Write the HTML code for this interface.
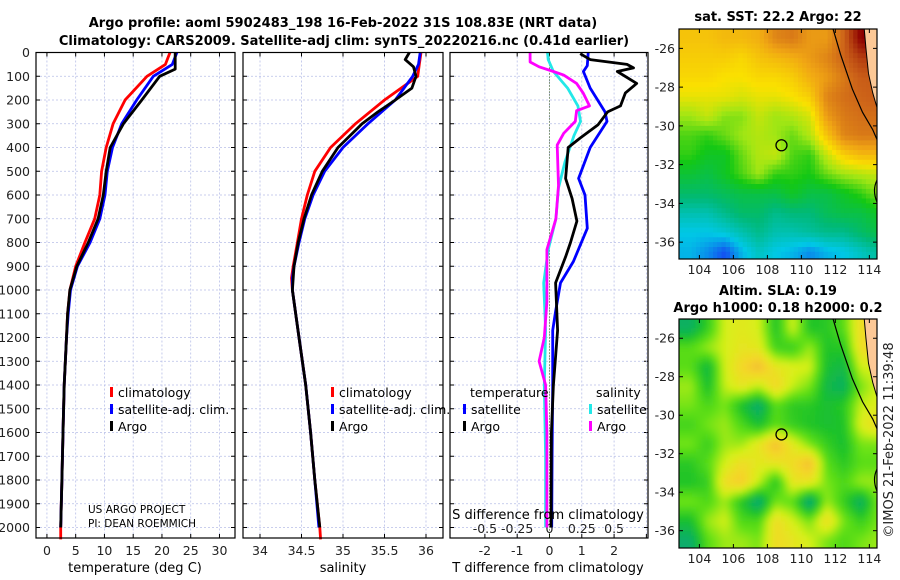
<!DOCTYPE html>
<html><head><meta charset="utf-8">
<style>
html,body{margin:0;padding:0;background:#fff;}
svg{display:block;font-family:"DejaVu Sans","Liberation Sans",sans-serif;}
</style></head>
<body>
<svg id="chart" width="900" height="580" viewBox="0 0 900 580" xmlns="http://www.w3.org/2000/svg">
<defs>
<filter id="blur" x="0" y="0" width="1" height="1"><feGaussianBlur stdDeviation="3"/></filter>
<clipPath id="clipTop"><rect x="679" y="29" width="198" height="230"/></clipPath>
<clipPath id="clipBot"><rect x="679" y="319" width="198" height="229"/></clipPath>
</defs>
<text x="343" y="27" text-anchor="middle" font-size="13" font-weight="bold">Argo profile: aoml 5902483_198 16-Feb-2022 31S 108.83E (NRT data)</text>
<text x="344" y="45" text-anchor="middle" font-size="13" font-weight="bold">Climatology: CARS2009. Satellite-adj clim: synTS_20220216.nc (0.41d earlier)</text>
<g id="g"></g>
</svg>
<script>
// ---------- profile data ----------
const tDepth = [0,50,100,200,300,400,500,600,700,800,900,1000,1100,1200,1400,1600,1800,2000,2050];
const tClim  = [21.4,20.6,17.4,13.6,11.5,10.3,9.5,9.2,8.3,6.6,5.0,4.0,3.6,3.4,3.0,2.8,2.6,2.4,2.4];
const tSat   = [22.6,21.8,18.5,15.6,13.0,11.4,10.5,10.1,9.2,7.5,5.3,4.1,3.7,3.4,3.0,2.8,2.6,2.4];
const tArgoDepth = [0,70,100,200,300,400,500,600,700,800,900,1000,1100,1200,1400,1600,1800,2000];
const tArgo  = [22.3,22.3,19.6,16.5,13.3,11.0,10.3,9.8,8.9,7.2,5.2,4.0,3.6,3.4,3.0,2.8,2.6,2.4];

const sDepth = [0,50,100,200,300,400,500,600,700,800,900,950,1000,1100,1200,1400,1600,1800,2000,2050];
const sClim  = [35.94,35.92,35.9,35.5,35.15,34.85,34.66,34.57,34.5,34.45,34.4,34.38,34.39,34.43,34.47,34.55,34.61,34.66,34.72,34.73];
const sSat   = [35.93,35.91,35.84,35.63,35.3,35.0,34.78,34.64,34.54,34.47,34.41,34.39,34.39,34.43,34.47,34.55,34.61,34.66,34.71];
const sArgoDepth = [0,30,60,100,150,200,250,300,400,500,600,700,800,900,1000,1100,1200,1400,1600,1800,2000];
const sArgo  = [35.8,35.75,35.85,35.88,35.83,35.63,35.42,35.23,34.94,34.75,34.62,34.53,34.46,34.41,34.39,34.43,34.47,34.55,34.61,34.66,34.72];

const dtDepth = [5,30,50,65,80,130,170,225,250,305,360,400,530,615,710,800,860,970,1170,1400,1600,2000];
const dtArgo  = [0.95,1.26,2.4,2.6,2.1,2.7,2.35,2.2,1.8,1.5,0.95,0.58,0.5,0.7,0.85,0.65,0.5,0.19,0.25,0.12,0.06,0.05];
const dtSatDepth = [0,55,80,150,250,290,400,530,600,740,880,970,1090,1170,1400,1700,2000];
const dtSat   = [1.2,1.17,1.05,1.26,1.72,1.78,1.26,0.9,1.1,1.17,0.74,0.34,0.19,0.1,0.1,0.08,0.07];
const dsDepth = [0,30,80,150,225,290,350,460,570,700,830,970,1170,1400,1700,2000];
const dsSat   = [-0.015,-0.01,0.03,0.14,0.22,0.24,0.19,0.12,0.07,0.05,-0.01,-0.045,-0.03,-0.04,-0.03,-0.03];
const dsArgoDepth = [0,40,60,80,95,130,170,225,245,290,340,390,560,700,830,1050,1200,1300,1400,1600,2000];
const dsArgo  = [-0.15,-0.15,-0.08,0.03,0.11,0.21,0.26,0.31,0.21,0.2,0.11,0.06,0.07,0.05,-0.02,-0.02,-0.04,-0.08,-0.03,-0.02,-0.02];

const depthTicks = [0,100,200,300,400,500,600,700,800,900,1000,1100,1200,1300,1400,1500,1600,1700,1800,1900,2000];
const tTicks = [0,5,10,15,20,25,30];
const sTicks = [34,34.5,35,35.5,36];
const sTickLabels = ["34","34.5","35","35.5","36"];
const dtTicks = [-2,-1,0,1,2];
const dsTicks = [-0.5,-0.25,0,0.25,0.5];
const dsTickLabels = ["-0.5","-0.25","0","0.25","0.5"];

// ---------- map data (1° cells centred, lon 103.5..114.5, lat -25.5..-36.5) ----------
const mapLons = [103.5,104.5,105.5,106.5,107.5,108.5,109.5,110.5,111.5,112.5,113.5,114.5];
const mapLats = [-25.5,-26.5,-27.5,-28.5,-29.5,-30.5,-31.5,-32.5,-33.5,-34.5,-35.5,-36.5];
const sstGrid = [
[22.6,22.6,22.7,22.7,22.8,23.2,23.3,23.0,23.0,23.5,24.8,24.8],
[22.5,22.5,22.5,22.4,22.6,22.7,22.8,23.0,23.2,23.5,24.0,24.0],
[22.4,22.4,22.3,22.3,22.4,22.4,22.5,22.8,23.0,23.3,23.6,23.6],
[22.2,22.2,22.2,22.1,22.2,22.2,22.3,22.5,23.2,23.4,23.5,23.6],
[21.8,22.0,21.7,21.7,22.0,21.8,21.9,22.1,23.0,23.3,23.4,23.4],
[21.5,21.4,21.6,21.8,21.9,21.8,21.6,21.9,22.6,23.2,23.3,23.3],
[21.4,21.2,21.2,21.6,21.9,22.0,21.5,21.4,22.0,22.5,22.7,22.7],
[21.1,21.0,21.2,21.5,21.8,21.4,21.4,21.3,21.6,21.8,21.9,22.0],
[20.8,20.8,20.9,21.0,21.0,21.0,21.2,21.0,21.0,21.2,21.4,21.7],
[20.4,20.4,20.6,20.8,20.8,20.6,20.7,20.7,20.9,21.0,21.0,21.2],
[20.1,20.1,20.2,20.4,20.6,20.4,20.4,20.5,20.6,20.6,20.8,21.0],
[20.0,19.8,19.5,20.0,20.3,20.1,20.0,19.8,20.0,20.1,20.3,20.5]];
const slaGrid = [
[-0.02,0.05,0.15,0.17,0.15,0.03,0.15,0.03,0.04,0.08,0.2,0.2],
[0.08,0.12,0.15,0.18,0.17,0.06,0.05,0.12,0.03,0.04,0.2,0.2],
[0.08,0.0,0.15,0.21,0.25,0.18,0.16,0.15,0.02,0.0,0.15,0.15],
[0.12,0.02,0.14,0.18,0.14,0.21,0.14,0.1,0.0,-0.02,0.1,0.15],
[0.1,0.07,0.1,0.02,-0.04,0.08,0.04,0.04,0.02,0.04,0.14,0.16],
[0.06,0.1,0.12,0.07,0.02,0.08,0.05,0.03,0.02,0.03,0.16,0.2],
[0.1,0.05,0.12,0.12,0.18,0.25,0.17,0.1,0.05,0.02,0.1,0.1],
[0.04,0.08,0.15,0.2,0.17,0.18,0.2,0.25,0.08,0.04,0.08,0.08],
[0.03,0.05,0.2,0.23,0.14,0.03,0.18,0.18,0.1,0.07,0.12,0.12],
[0.1,0.07,0.12,0.03,-0.05,0.1,0.08,-0.06,0.12,0.05,-0.03,0.1],
[0.02,0.12,0.15,0.07,0.07,0.2,0.15,0.1,0.2,0.1,0.05,0.1],
[-0.03,0.08,0.12,0.12,0.1,0.2,0.18,0.15,0.1,0.07,0.1,0.12]];
const lonTicks = [104,106,108,110,112,114];
const latTicks = [-26,-28,-30,-32,-34,-36];
const floatLon = 108.83, floatLat = -31;

// ---------- helpers ----------
const NS="http://www.w3.org/2000/svg";
const G=document.getElementById('g');
function mk(tag,attrs,parent){const e=document.createElementNS(NS,tag);for(const k in attrs)e.setAttribute(k,attrs[k]);(parent||G).appendChild(e);return e;}
const Y0=52.5, YS=0.2375, YB=538;
const yD=d=>Y0+d*YS;
const panels=[
 {x0:36,x1:235,lo:-1.9,hi:32.7},
 {x0:243,x1:443,lo:33.795,hi:36.205},
 {x0:450,x1:648,lo:-3.08,hi:3.05}];
function xf(p){return v=>p.x0+(v-p.lo)/(p.hi-p.lo)*(p.x1-p.x0);}
const xT=xf(panels[0]), xS=xf(panels[1]), xDT=xf(panels[2]);
const xDS=v=>xDT(v*4);

panels.forEach((p,i)=>{
  const fr=mk('g',{});
  
  
  depthTicks.forEach(d=>{
    mk('line',{x1:p.x0,x2:p.x1,y1:yD(d),y2:yD(d),stroke:'#b8bfe8','stroke-width':0.8,'stroke-dasharray':'2,2'},fr);
    mk('line',{x1:p.x0,x2:p.x0+4,y1:yD(d),y2:yD(d),stroke:'#000'},fr);
    mk('line',{x1:p.x1,x2:p.x1-4,y1:yD(d),y2:yD(d),stroke:'#000'},fr);
  });
});
function vgrid(ticks,f){ticks.forEach(v=>{const x=f(v);
  mk('line',{x1:x,x2:x,y1:Y0,y2:YB,stroke:'#b8bfe8','stroke-width':0.8,'stroke-dasharray':'2,2'});
  mk('line',{x1:x,x2:x,y1:YB,y2:YB-4,stroke:'#000'});mk('line',{x1:x,x2:x,y1:Y0,y2:Y0+4,stroke:'#000'});});}
vgrid(tTicks,xT);vgrid(sTicks,xS);vgrid(dtTicks.concat([3]),xDT);
mk('line',{x1:xDT(0),x2:xDT(0),y1:Y0,y2:YB,stroke:'#335511','stroke-width':1,'stroke-dasharray':'1,2'});

depthTicks.forEach(d=>{const t=mk('text',{x:30,y:yD(d)+4.5,'text-anchor':'end','font-size':12.5,fill:'#222'});t.textContent=d;
  });
function xlabels(ticks,labels,f,y,fs){ticks.forEach((v,i)=>{const t=mk('text',{x:f(v),y:y,'text-anchor':'middle','font-size':fs||12.5,fill:'#222'});t.textContent=labels[i];
  });}
xlabels(tTicks,tTicks.map(String),xT,555);
xlabels(sTicks,sTickLabels,xS,555);
xlabels(dtTicks,dtTicks.map(String),xDT,555);
xlabels(dsTicks,dsTickLabels,xDS,533);

function line(depths,vals,f,color,name,w){
  const pts=depths.map((d,i)=>f(vals[i]).toFixed(1)+','+yD(d).toFixed(1)).join(' ');
  const e=mk('polyline',{points:pts,fill:'none',stroke:color,'stroke-width':w||2.8,'stroke-linejoin':'round'});
  
}
line(tDepth,tClim,xT,'#ff0000','temp-climatology-line');
line(tDepth.slice(0,tSat.length),tSat,xT,'#0000ff','temp-satellite-line');
line(tArgoDepth,tArgo,xT,'#000','temp-argo-line');
line(sDepth,sClim,xS,'#ff0000','sal-climatology-line');
line(sDepth.slice(0,sSat.length),sSat,xS,'#0000ff','sal-satellite-line');
line(sArgoDepth,sArgo,xS,'#000','sal-argo-line');
line(dsDepth,dsSat,xDS,'#22e8e8','sdiff-satellite-line');
line(dsArgoDepth,dsArgo,xDS,'#ff00ff','sdiff-argo-line');
line(dtSatDepth,dtSat,xDT,'#0000ff','tdiff-satellite-line');
line(dtDepth,dtArgo,xDT,'#000','tdiff-argo-line');

panels.forEach(p=>mk('rect',{x:p.x0,y:Y0,width:p.x1-p.x0,height:YB-Y0,fill:'none',stroke:'#000','stroke-width':1.2}));

function txt(x,y,s,fs,name,anchor,extra){const t=mk('text',Object.assign({x:x,y:y,'font-size':fs,fill:'#000','text-anchor':anchor||'start'},extra||{}));t.textContent=s;
  return t;}
txt(135,572,'temperature (deg C)',13,'x-axis-title-temperature','middle');
txt(343,572,'salinity',13,'x-axis-title-salinity','middle');
txt(548,572,'T difference from climatology',13,'x-axis-title-tdiff','middle');
txt(548,519,'S difference from climatology',13,'s-axis-title-sdiff','middle');
txt(88,513,'US ARGO PROJECT',10.5,'project-label');
txt(88,527,'PI: DEAN ROEMMICH',10.5,'pi-label');

function leg(x,y,color,label,name){mk('rect',{x:x,y:y-10,width:3,height:10,fill:color});txt(x+8,y,label,12.5,name);}
leg(110,397,'#ff0000','climatology','legend-climatology');
leg(110,414,'#0000ff','satellite-adj. clim.','legend-satellite');
leg(110,431,'#000','Argo','legend-argo');
leg(331,397,'#ff0000','climatology','legend2-climatology');
leg(331,414,'#0000ff','satellite-adj. clim.','legend2-satellite');
leg(331,431,'#000','Argo','legend2-argo');
txt(470,397,'temperature',12.5,'legend-temperature-heading');
leg(463,414,'#0000ff','satellite','legend-tdiff-satellite');
leg(463,431,'#000','Argo','legend-tdiff-argo');
txt(596,397,'salinity',12.5,'legend-salinity-heading');
leg(589,414,'#22e8e8','satellite','legend-sdiff-satellite');
leg(589,431,'#ff00ff','Argo','legend-sdiff-argo');

// ---------- maps ----------
function cmap(stops,v){if(v<=stops[0][0])return 'rgb('+stops[0][1].join(',')+')';
  for(let i=1;i<stops.length;i++){if(v<=stops[i][0]){const a=stops[i-1],b=stops[i],t=(v-a[0])/(b[0]-a[0]);
    return 'rgb('+a[1].map((c,k)=>Math.round(c+(b[1][k]-c)*t)).join(',')+')';}}
  return 'rgb('+stops[stops.length-1][1].join(',')+')';}
const sstStops=[[19.5,[20,80,240]],[20.1,[0,200,230]],[20.7,[0,185,120]],[21.3,[20,200,20]],[21.8,[160,230,20]],[22.3,[250,225,0]],[22.9,[240,165,20]],[23.5,[205,100,25]],[24.8,[140,0,0]]];
const slaStops=[[-0.05,[0,165,130]],[0.03,[30,195,40]],[0.09,[100,225,20]],[0.15,[215,240,25]],[0.21,[245,215,40]],[0.27,[240,170,60]]];

function interp(grid,fc,fr){
  const c0=Math.max(0,Math.min(10,Math.floor(fc))),r0=Math.max(0,Math.min(10,Math.floor(fr)));
  const tc=Math.max(0,Math.min(1,fc-c0)),tr=Math.max(0,Math.min(1,fr-r0));
  const a=grid[r0][c0],b=grid[r0][c0+1],c=grid[r0+1][c0],d=grid[r0+1][c0+1];
  return (a*(1-tc)+b*tc)*(1-tr)+(c*(1-tc)+d*tc)*tr;
}
function drawMap(cfg){
  const {x0,x1,y0,y1,latTop,latBot,grid,stops,clip,blur,name,sub}=cfg;
  const lonL=102.8,lonR=114.45;
  const xL=lon=>x0+(lon-lonL)/(lonR-lonL)*(x1-x0);
  const yL=lat=>y0+(latTop-lat)/(latTop-latBot)*(y1-y0);
  const g=mk('g',{'clip-path':'url(#'+clip+')'});
  
  const cg=mk('g',blur?{filter:'url(#blur)'}:{},g);
  const step=1/sub;
  for(let lat=latTop+0.5;lat>latBot-1;lat-=step){
    for(let lon=lonL-0.5;lon<lonR+0.5;lon+=step){
      const fc=(lon+step/2)-mapLons[0], fr=mapLats[0]-(lat-step/2);
      const v=interp(grid,fc,fr);
      const xa=xL(lon),xb=xL(lon+step),ya=yL(lat),yb=yL(lat-step);
      const cell=mk('rect',{x:xa.toFixed(1),y:ya.toFixed(1),width:(xb-xa+0.6).toFixed(1),height:(yb-ya+0.6).toFixed(1),fill:cmap(stops,v)},cg);
      
      
    }
  }
  const land=[[113.65,-24.5],[113.8,-26],[113.95,-27.3],[114.2,-28.3],[114.5,-29.2],[114.6,-24.5]];
  mk('polygon',{points:land.map(p=>xL(p[0])+','+yL(p[1])).join(' '),fill:'#fcc896'},g);
  mk('polyline',{points:[[111.8,-24.8],[112.3,-26.3],[113.0,-28.1],[113.6,-29.3],[114.2,-30.2],[114.5,-30.8]].map(p=>xL(p[0])+','+yL(p[1])).join(' '),fill:'none',stroke:'#000','stroke-width':1.2},g);
  mk('polyline',{points:land.slice(0,5).map(p=>xL(p[0])+','+yL(p[1])).join(' '),fill:'none',stroke:'#000','stroke-width':1},g);
  mk('path',{d:'M'+xL(114.45)+','+yL(-32.8)+' q-5,10 0,22',fill:'none',stroke:'#000','stroke-width':1.2},g);
  mk('circle',{cx:xL(floatLon),cy:yL(floatLat),r:5.5,fill:'none',stroke:'#000','stroke-width':1.3},g);
  mk('rect',{x:x0,y:y0,width:x1-x0,height:y1-y0,fill:'none',stroke:'#000','stroke-width':1.2});
  latTicks.forEach(lat=>{const y=yL(lat);
    mk('line',{x1:x0,x2:x0+4,y1:y,y2:y,stroke:'#000'});mk('line',{x1:x1,x2:x1-4,y1:y,y2:y,stroke:'#000'});
    txt(x0-4,y+4.5,String(lat),12.5,'map-lat-tick-label','end',{fill:'#222'});});
  lonTicks.forEach(lon=>{const x=xL(lon);
    mk('line',{x1:x,x2:x,y1:y1,y2:y1-4,stroke:'#000'});mk('line',{x1:x,x2:x,y1:y0,y2:y0+4,stroke:'#000'});
    txt(x,y1+15,String(lon),12.5,'map-lon-tick-label','middle',{fill:'#222'});});
}
drawMap({x0:679,x1:877,y0:29,y1:259,latTop:-25.0,latBot:-36.87,grid:sstGrid,stops:sstStops,clip:'clipTop',blur:false,name:'sst-map',sub:4});
drawMap({x0:679,x1:877,y0:319,y1:548,latTop:-25.0,latBot:-36.9,grid:slaGrid,stops:slaStops,clip:'clipBot',blur:true,name:'sla-map',sub:4});
txt(778,21,'sat. SST: 22.2 Argo: 22',13,'sst-map-title','middle',{'font-weight':'bold'});
txt(778,295,'Altim. SLA: 0.19',13,'sla-map-title','middle',{'font-weight':'bold'});
txt(778,312,'Argo h1000: 0.18 h2000: 0.2',13,'sla-map-subtitle','middle',{'font-weight':'bold'});
txt(893,440,'©IMOS 21-Feb-2022 11:39:48',13,'timestamp-label','middle',{transform:'rotate(-90 893 440)',fill:'#222'});
</script>
</body></html>
